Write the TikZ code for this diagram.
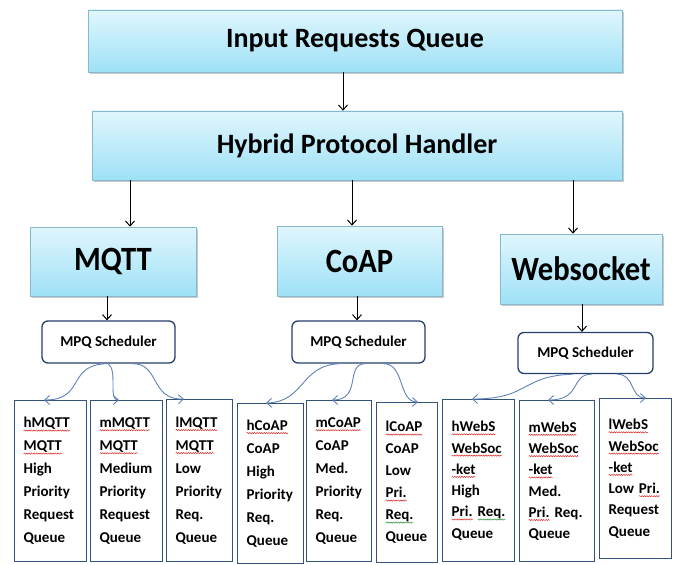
\documentclass[tikz,border=0pt]{standalone}
\usepackage{fontspec}
\setmainfont{Carlito}
\newfontfamily\bigfont[FakeStretch=0.9]{Carlito}
\usetikzlibrary{arrows.meta,shadows,decorations.pathmorphing}
\definecolor{cyanT}{RGB}{224,246,253}
\definecolor{cyanB}{RGB}{158,225,246}
\definecolor{cyanE}{RGB}{135,185,205}
\definecolor{navy}{RGB}{38,62,108}
\definecolor{qbord}{RGB}{52,82,122}
\definecolor{curv}{RGB}{95,130,185}
\definecolor{sqred}{RGB}{220,40,40}
\definecolor{sqgreen}{RGB}{40,150,60}
\newsavebox\wavebox
\newcommand\squig[2]{\leavevmode\sbox\wavebox{#2}\hbox{\rlap{\tikz[overlay,baseline=0pt]\draw[draw=#1,line width=0.5pt,decorate,decoration={snake,amplitude=0.6pt,segment length=2.4pt}] (0pt,-2.6pt) -- (\the\wd\wavebox,-2.6pt);}\usebox\wavebox}}
\newcommand\rw[1]{\squig{sqred}{#1}}
\newcommand\gw[1]{\squig{sqgreen}{#1}}
\tikzset{
  bigbox/.style={draw=cyanE, line width=0.6pt, top color=cyanT, bottom color=cyanB,
    drop shadow={shadow xshift=1.8pt, shadow yshift=-1.8pt, opacity=0.35, fill=black!60},
    inner sep=0pt},
  titletext/.style={font=\fontsize{28}{32}\selectfont\bfseries},
  prottext/.style={font=\bigfont\fontsize{34}{38}\selectfont\bfseries},
  sched/.style={draw=navy, line width=1.3pt, rounded corners=6pt, fill=white,
    font=\fontsize{15}{17}\selectfont\bfseries, inner sep=0pt},
  qbox/.style={draw=qbord, line width=1.3pt, fill=white, anchor=north west,
    font=\fontsize{15}{23}\selectfont\bfseries, align=left, inner xsep=9pt, inner ysep=0pt},
  qtight/.style={font=\fontsize{15}{21.3}\selectfont\bfseries},
  arr/.style={draw=black, line width=1pt, -{Straight Barb[length=5pt,width=9pt]}},
  curvy/.style={draw=curv, line width=0.9pt, -{Straight Barb[length=5pt,width=9pt]}},
}
\begin{document}
\begin{tikzpicture}[x=1pt,y=-1pt]
\useasboundingbox[fill=white] (0,0) rectangle (676,564);

% top boxes
\node[bigbox, titletext, minimum width=534pt, minimum height=62pt] (inq) at (355,41) {Input Requests Queue};
\node[bigbox, titletext, minimum width=530pt, minimum height=69pt] (hyb) at (357,145.5) {Hybrid Protocol Handler};

% protocol boxes
\node[bigbox, prottext, minimum width=166pt, minimum height=69pt] (mqtt) at (113,261.5) {MQTT};
\node[bigbox, prottext, minimum width=165pt, minimum height=70pt] (coap) at (359.5,261) {CoAP};
\node[bigbox, prottext, minimum width=162pt, minimum height=70pt] (webs) at (581,269) {Websocket};

% schedulers
\node[sched, minimum width=133pt, minimum height=42pt] (s1) at (108.5,342) {MPQ Scheduler};
\node[sched, minimum width=133pt, minimum height=42pt] (s2) at (358.5,342) {MPQ Scheduler};
\node[sched, minimum width=135pt, minimum height=41pt] (s3) at (585.5,353) {MPQ Scheduler};

% queue boxes
\node[qbox, text width=54pt, minimum height=161pt] (q1) at (14,400) {\rw{hMQTT}\\\rw{MQTT}\\High\\Priority\\Request\\Queue};
\node[qbox, text width=54pt, minimum height=161pt] (q2) at (90,400) {\rw{mMQTT}\\\rw{MQTT}\\Medium\\Priority\\Request\\Queue};
\node[qbox, text width=48pt, minimum height=162pt] (q3) at (166,399) {\rw{lMQTT}\\\rw{MQTT}\\Low\\Priority\\Req.\\Queue};
\node[qbox, text width=48pt, minimum height=160pt] (q4) at (237,403) {\rw{hCoAP}\\CoAP\\High\\Priority\\Req.\\Queue};
\node[qbox, text width=47pt, minimum height=161pt] (q5) at (306,400) {\rw{mCoAP}\\CoAP\\Med.\\Priority\\Req.\\Queue};
\node[qbox, font=\fontsize{15}{22}\selectfont\bfseries, text width=43pt, minimum height=160pt] (q6) at (376,402) {\rw{lCoAP}\\CoAP\\Low\\\rw{Pri.}\\\gw{Req.}\\Queue};
\node[qbox, qtight, text width=54pt, minimum height=162pt] (q7) at (442,399) {\rw{hWebS}\\\rw{WebSoc}\\\rw{-ket}\\High\\\rw{Pri.} \gw{Req.}\\Queue};
\node[qbox, qtight, text width=57pt, minimum height=161pt] (q8) at (519,400) {\rw{mWebS}\\\rw{WebSoc}\\\rw{-ket}\\Med.\\\rw{Pri.} Req.\\Queue};
\node[qbox, qtight, text width=54pt, minimum height=160pt] (q9) at (599,398) {\rw{lWebS}\\\rw{WebSoc}\\\rw{-ket}\\Low \rw{Pri.}\\Request\\Queue};

% black arrows
\draw[arr] (inq.south -| 343,0) -- (hyb.north -| 343,0);
\draw[arr] (hyb.south -| 130,0) -- (mqtt.north -| 130,0);
\draw[arr] (hyb.south -| 352,0) -- (coap.north -| 352,0);
\draw[arr] (hyb.south -| 573,0) -- (webs.north -| 573,0);
\draw[arr] (mqtt.south -| 107,0) -- (s1.north -| 107,0);
\draw[arr] (coap.south -| 357,0) -- (s2.north -| 357,0);
\draw[arr] (webs.south -| 582,0) -- (s3.north -| 582,0);

% curved connectors
\draw[curvy] (s1.south -| 108,0) .. controls (66,364) and (86,400) .. (q1.north -| 44,0);
\draw[curvy] (s1.south -| 108,0) .. controls (118,370) and (108,400) .. (q2.north -| 119,0);
\draw[curvy] (s1.south -| 132,0) .. controls (160,363) and (150,400) .. (q3.north -| 184,0);

\draw[curvy] (s2.south -| 340,0) .. controls (300,365) and (305,402) .. (q4.north -| 266,0);
\draw[curvy] (s2.south -| 365,0) .. controls (345,364) and (362,400) .. (q5.north -| 332,0);
\draw[curvy] (s2.south -| 383,0) .. controls (405,363) and (398,402) .. (q6.north -| 418,0);

\draw[curvy] (s3.south -| 573,0) .. controls (520,376) and (530,399) .. (q7.north -| 472,0);
\draw[curvy] (s3.south -| 592,0) .. controls (570,374) and (582,400) .. (q8.north -| 548,0);
\draw[curvy] (s3.south -| 617,0) .. controls (635,374) and (630,398) .. (q9.north -| 646,0);
\end{tikzpicture}
\end{document}
